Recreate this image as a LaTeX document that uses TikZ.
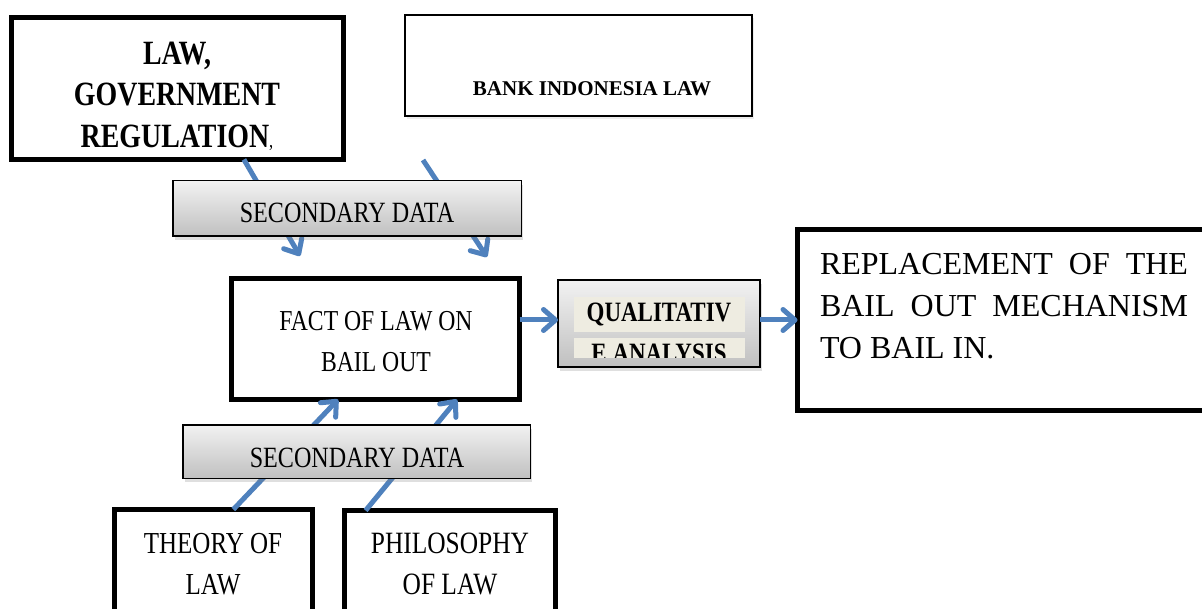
\documentclass[tikz,border=0pt]{standalone}
\usepackage{fontspec}
\setmainfont{Liberation Serif}
\newfontfamily\camb[FakeStretch=0.82]{Liberation Serif}
\usetikzlibrary{arrows.meta,shadows,calc}
\definecolor{arrblue}{RGB}{79,129,189}
\definecolor{stripbg}{RGB}{238,236,225}
\begin{document}
\begin{tikzpicture}[x=1pt,y=-1pt,
  thickbox/.style={draw=black,line width=5pt,fill=white,inner sep=0pt,outer sep=0pt},
  thinbox/.style={draw=black,line width=2pt,fill=white,inner sep=0pt,outer sep=0pt},
  graybox/.style={draw=black,line width=1.5pt,inner sep=0pt,outer sep=0pt,
    top color={rgb,255:red,242;green,242;blue,242},bottom color={rgb,255:red,192;green,192;blue,192},
    drop shadow={shadow xshift=2pt,shadow yshift=-4pt,opacity=0.25}},
  strip/.style={fill=stripbg,inner sep=0pt,outer sep=0pt},
  txt/.style={inner sep=0pt,outer sep=0pt,align=center},
  arr/.style={draw=arrblue,line width=5pt,-{Straight Barb[length=12pt,width=21pt,round]}}
]
\useasboundingbox (0,0) rectangle (1202,609);
\clip (0,0) rectangle (1202,609);

% boxes
\node[thickbox,minimum width=332pt,minimum height=142pt] (law) at (177.5,88.5) {};
\node[thinbox,minimum width=347pt,minimum height=101pt,drop shadow={shadow xshift=2pt,shadow yshift=-3pt,opacity=0.15}] (bank) at (578.5,65.5) {};
\node[thickbox,minimum width=288pt,minimum height=121pt] (fact) at (375.5,339) {};
\node[thickbox,minimum width=410pt,minimum height=181pt] (repl) at (1002.5,320) {};
\node[thickbox,minimum width=198pt,minimum height=108pt] (theory) at (213.5,563.5) {};
\node[thickbox,minimum width=211pt,minimum height=107pt] (philo) at (450,564) {};

% connector ends
\coordinate (lawtip) at (300,256);
\coordinate (banktail) at (423,160);
\coordinate (banktip) at (487,257);

% arrows (behind the secondary data boxes)
\draw[arr] ($(law.south west)!0.70!(law.south east)$) -- (lawtip);
\draw[arr] (banktail) -- (banktip);
\draw[arr] ($(theory.north west)!0.60!(theory.north east)$) -- ($(fact.south west)!0.37!(fact.south east)$);
\draw[arr] ($(philo.north west)!0.10!(philo.north east)$) -- ($(fact.south west)!0.783!(fact.south east)$);

% gray boxes
\node[graybox,minimum width=348.5pt,minimum height=55.5pt] (sec1) at (347,208.5) {};
\node[graybox,minimum width=347.5pt,minimum height=53.5pt] (sec2) at (356.5,451.5) {};
\node[graybox,line width=2pt,minimum width=202pt,minimum height=87pt] (qual) at (659,323.5) {};
\node[strip,minimum width=171pt,minimum height=35pt] (strip1) at (659.5,314.5) {};
\node[strip,minimum width=171pt,minimum height=20pt] (strip2) at (659.5,348) {};

\draw[arr] (fact.east |- 0,320) -- (qual.west |- 0,320);
\draw[arr] (qual.east |- 0,320) -- (repl.west |- 0,320);

% texts
\node[txt,anchor=north,font=\camb\bfseries\fontsize{34}{41.5}\selectfont] (lawtxt) at (177,42)
  {LAW,\\GOVERNMENT\\REGULATION{\mdseries\fontsize{20}{20}\selectfont,}};
\node[txt,anchor=base,font=\bfseries\fontsize{21}{24}\selectfont] (banktxt) at (592,96) {BANK INDONESIA LAW};
\node[txt,anchor=base,font=\camb\fontsize{29.4}{34}\selectfont] (sec1txt) at (347,223) {SECONDARY DATA};
\node[txt,anchor=base,font=\camb\fontsize{29.4}{34}\selectfont] (sec2txt) at (357,467) {SECONDARY DATA};
\node[txt,anchor=north,font=\camb\fontsize{28.9}{41}\selectfont] (facttxt) at (376,311) {FACT OF LAW ON\\BAIL OUT};
\node[txt,anchor=base,font=\camb\bfseries\fontsize{28}{32}\selectfont] (qualtxt1) at (659,322) {QUALITATIV};
\begin{scope}
  \clip (strip2.north west) rectangle (strip2.south east);
  \node[txt,anchor=base,font=\camb\bfseries\fontsize{28}{32}\selectfont] (qualtxt2) at (659,363) {E ANALYSIS};
\end{scope}
\node[txt,anchor=north west,text width=368pt,align=justify,font=\fontsize{32}{42}\selectfont] (repltxt) at (820,253)
  {REPLACEMENT OF THE\linebreak BAIL OUT MECHANISM\linebreak TO BAIL IN.};
\node[txt,anchor=north,font=\camb\fontsize{30.5}{41}\selectfont] (theorytxt) at (213,533) {THEORY OF\\LAW};
\node[txt,anchor=north,font=\camb\fontsize{31}{41}\selectfont] (philotxt) at (450,533) {PHILOSOPHY\\OF LAW};
\end{tikzpicture}
\end{document}
